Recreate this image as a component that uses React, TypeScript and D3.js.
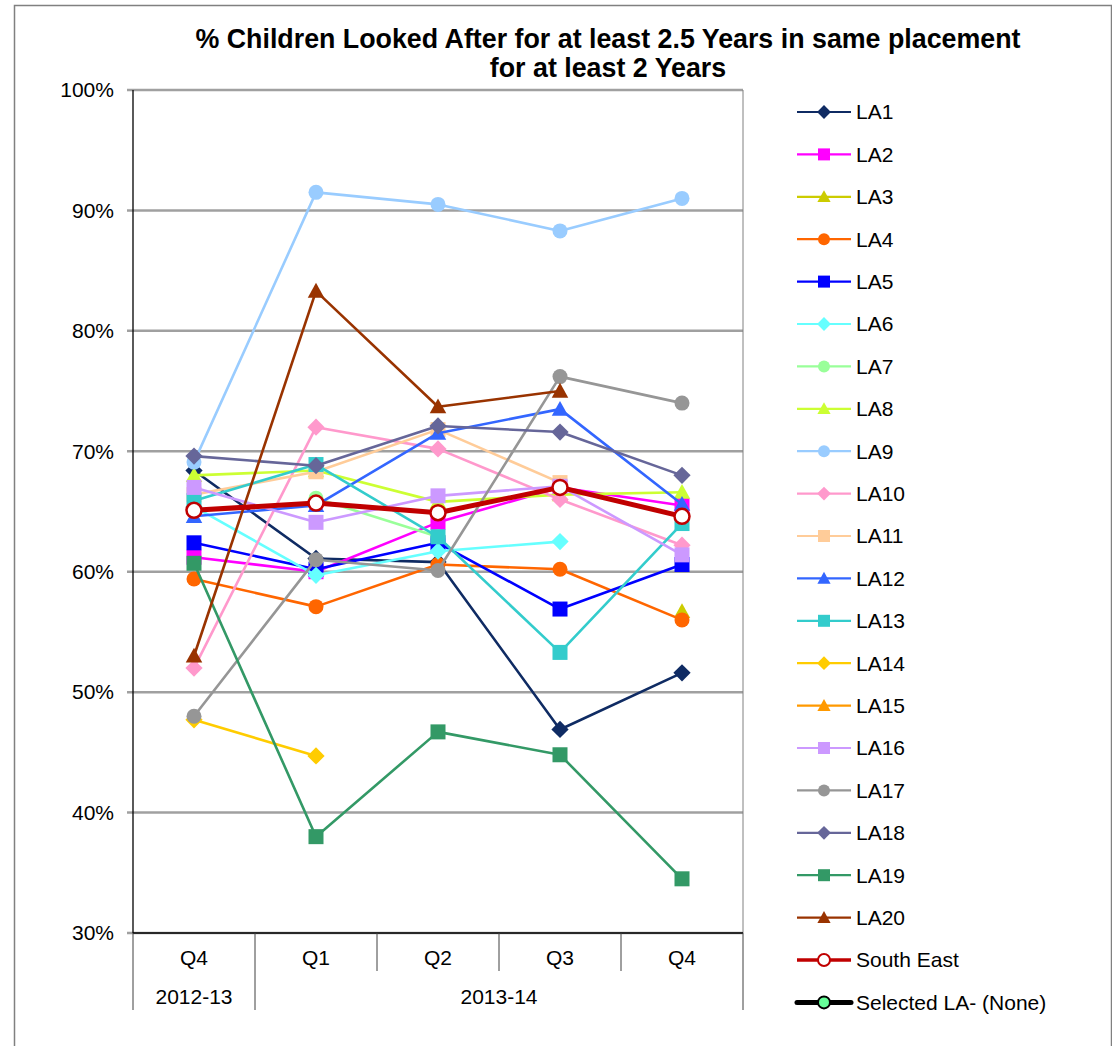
import React from "react";
import * as d3 from "d3";

const categories = ["Q4", "Q1", "Q2", "Q3", "Q4"];
const yearGroups = [
  { label: "2012-13", from: 0, to: 0 },
  { label: "2013-14", from: 1, to: 4 },
];
const yTicks = [30, 40, 50, 60, 70, 80, 90, 100];

type V = number | null;
const LA1: V[] = [68.4, 61.1, 60.8, 46.9, 51.6];
const LA2: V[] = [61.2, 60.0, 64.1, 67.0, 65.5];
const LA3: V[] = [null, null, null, null, 56.7];
const LA4: V[] = [59.4, 57.1, 60.6, 60.2, 56.0];
const LA5: V[] = [62.4, 60.2, 62.4, 56.9, 60.6];
const LA6: V[] = [65.4, 59.7, 61.7, 62.5, null];
const LA7: V[] = [null, 66.1, 62.9, null, null];
const LA8: V[] = [68.0, 68.4, 65.8, 66.4, 66.6];
const LA9: V[] = [69.1, 91.5, 90.5, 88.3, 91.0];
const LA10: V[] = [52.0, 72.0, 70.2, 66.0, 62.2];
const LA11: V[] = [66.4, 68.3, 71.8, 67.4, null];
const LA12: V[] = [64.6, 65.5, 71.5, 73.5, 65.6];
const LA13: V[] = [65.9, 68.9, 62.9, 53.3, 64.0];
const LA14: V[] = [47.7, 44.7, null, null, null];
const LA15: V[] = [null, null, null, null, null];
const LA16: V[] = [67.0, 64.1, 66.3, 67.1, 61.4];
const LA17: V[] = [48.0, 61.0, 60.1, 76.2, 74.0];
const LA18: V[] = [69.6, 68.8, 72.1, 71.6, 68.0];
const LA19: V[] = [60.7, 38.0, 46.7, 44.8, 34.5];
const LA20: V[] = [53.0, 83.3, 73.7, 75.0, null];
const SouthEast: V[] = [65.1, 65.7, 64.9, 67.0, 64.6];
const SelectedLA: V[] = [null, null, null, null, null];

type Shape = "diamond" | "square" | "triangle" | "circle";
interface S {
  name: string;
  values: V[];
  color: string;
  shape: Shape;
  width: number;
  legendWidth: number;
  fill?: string;
  stroke?: string;
}

const series: S[] = [
  { name: "LA1", values: LA1, color: "#0F2B63", shape: "diamond", width: 2.6, legendWidth: 2.2 },
  { name: "LA2", values: LA2, color: "#FF00FF", shape: "square", width: 2.6, legendWidth: 2.2 },
  { name: "LA3", values: LA3, color: "#CCCC00", shape: "triangle", width: 2.6, legendWidth: 2.2 },
  { name: "LA4", values: LA4, color: "#FF6600", shape: "circle", width: 2.6, legendWidth: 2.2 },
  { name: "LA5", values: LA5, color: "#0000FF", shape: "square", width: 2.6, legendWidth: 2.2 },
  { name: "LA6", values: LA6, color: "#66FFFF", shape: "diamond", width: 2.6, legendWidth: 2.2 },
  { name: "LA7", values: LA7, color: "#99FF99", shape: "circle", width: 2.6, legendWidth: 2.2 },
  { name: "LA8", values: LA8, color: "#CCFF33", shape: "triangle", width: 2.6, legendWidth: 2.2 },
  { name: "LA9", values: LA9, color: "#99CCFF", shape: "circle", width: 2.6, legendWidth: 2.2 },
  { name: "LA10", values: LA10, color: "#FF99CC", shape: "diamond", width: 2.6, legendWidth: 2.2 },
  { name: "LA11", values: LA11, color: "#FFCC99", shape: "square", width: 2.6, legendWidth: 2.2 },
  { name: "LA12", values: LA12, color: "#3366FF", shape: "triangle", width: 2.6, legendWidth: 2.2 },
  { name: "LA13", values: LA13, color: "#33CCCC", shape: "square", width: 2.6, legendWidth: 2.2 },
  { name: "LA14", values: LA14, color: "#FFCC00", shape: "diamond", width: 2.6, legendWidth: 2.2 },
  { name: "LA15", values: LA15, color: "#FF9900", shape: "triangle", width: 2.6, legendWidth: 2.2 },
  { name: "LA16", values: LA16, color: "#CC99FF", shape: "square", width: 2.6, legendWidth: 2.2 },
  { name: "LA17", values: LA17, color: "#969696", shape: "circle", width: 2.6, legendWidth: 2.2 },
  { name: "LA18", values: LA18, color: "#666699", shape: "diamond", width: 2.6, legendWidth: 2.2 },
  { name: "LA19", values: LA19, color: "#339966", shape: "square", width: 2.6, legendWidth: 2.2 },
  { name: "LA20", values: LA20, color: "#993300", shape: "triangle", width: 2.6, legendWidth: 2.2 },
  { name: "South East", values: SouthEast, color: "#C00000", shape: "circle", width: 5, legendWidth: 3.5, fill: "#FFFFFF", stroke: "#C00000" },
  { name: "Selected LA- (None)", values: SelectedLA, color: "#000000", shape: "circle", width: 5, legendWidth: 5, fill: "#66FF99", stroke: "#000000" },
];

const W = 1112;
const H = 1046;
const plot = { left: 133, right: 743, top: 90, bottom: 933 };
const FONT = "'Liberation Sans', Arial, sans-serif";

function Marker({ shape, x, y, size, fill, stroke, sw }: { shape: Shape; x: number; y: number; size: number; fill: string; stroke?: string; sw?: number }) {
  const h = size / 2;
  if (shape === "circle") {
    return <circle cx={x} cy={y} r={h} fill={fill} stroke={stroke || "none"} strokeWidth={sw || 0} />;
  }
  if (shape === "square") {
    return <rect x={x - h} y={y - h} width={size} height={size} fill={fill} />;
  }
  if (shape === "diamond") {
    const d = h * 1.15;
    return <path d={`M${x},${y - d}L${x + d},${y}L${x},${y + d}L${x - d},${y}Z`} fill={fill} />;
  }
  const t = h * 1.1;
  return <path d={`M${x},${y - t}L${x + t},${y + t * 0.8}L${x - t},${y + t * 0.8}Z`} fill={fill} />;
}

export default function App() {
  const x = d3
    .scalePoint<number>()
    .domain(categories.map((_, i) => i))
    .range([plot.left, plot.right])
    .padding(0.5);
  const step = x.step();
  const y = d3.scaleLinear().domain([30, 100]).range([plot.bottom, plot.top]);

  const line = d3
    .line<V>()
    .defined((d) => d != null)
    .x((_, i) => x(i) as number)
    .y((d) => y(d as number));

  const legendX = 797;
  const legendY0 = 112;
  const legendStep = 42.4;

  return (
    <div style={{ position: "absolute", left: 0, top: 0 }}>
      <svg width={W} height={H} style={{ display: "block", background: "#fff" }} fontFamily={FONT}>
        <rect x={14.5} y={5.5} width={1097} height={1060} fill="#fff" stroke="#808080" strokeWidth={1.5} />
        <text x={608} y={48} textAnchor="middle" fontSize={26.8} fontWeight="bold">
          % Children Looked After for at least 2.5 Years in same placement
        </text>
        <text x={608} y={77} textAnchor="middle" fontSize={26.8} fontWeight="bold">
          for at least 2 Years
        </text>

        {yTicks.map((t) => (
          <line key={t} x1={plot.left - 6} x2={plot.right} y1={y(t)} y2={y(t)} stroke="#A0A0A0" strokeWidth={2.5} />
        ))}
        {yTicks.map((t) => (
          <text key={"l" + t} x={114} y={y(t)} dy="0.35em" textAnchor="end" fontSize={21}>
            {t}%
          </text>
        ))}
        <line x1={plot.right} x2={plot.right} y1={plot.top} y2={plot.bottom} stroke="#808080" strokeWidth={1} />
        <line x1={plot.left} x2={plot.left} y1={plot.top} y2={plot.bottom} stroke="#000" strokeWidth={1.3} />
        <line x1={plot.left} x2={plot.right} y1={plot.bottom} y2={plot.bottom} stroke="#000" strokeWidth={1.3} />

        {d3.range(categories.length + 1).map((i) => {
          const xx = plot.left + i * step;
          const isGroupEdge = yearGroups.some((g) => g.from === i || g.to + 1 === i);
          return (
            <line key={"t" + i} x1={xx} x2={xx} y1={plot.bottom} y2={isGroupEdge ? 1010 : 971} stroke="#404040" strokeWidth={1} />
          );
        })}
        {categories.map((c, i) => (
          <text key={"c" + i} x={x(i)} y={958} dy="0.35em" textAnchor="middle" fontSize={21}>
            {c}
          </text>
        ))}
        {yearGroups.map((g) => (
          <text key={g.label} x={((x(g.from) as number) + (x(g.to) as number)) / 2} y={997} dy="0.35em" textAnchor="middle" fontSize={21}>
            {g.label}
          </text>
        ))}

        {series.map((s) => (
          <g key={s.name}>
            <path d={line(s.values) || ""} fill="none" stroke={s.color} strokeWidth={s.width} strokeLinejoin="round" />
            {s.values.map((v, i) =>
              v == null ? null : (
                <Marker
                  key={i}
                  shape={s.shape}
                  x={x(i) as number}
                  y={y(v)}
                  size={15}
                  fill={s.fill || s.color}
                  stroke={s.stroke}
                  sw={s.stroke ? 2.5 : 0}
                />
              )
            )}
          </g>
        ))}

        {series.map((s, i) => {
          const ly = legendY0 + i * legendStep;
          return (
            <g key={"lg" + s.name}>
              <line x1={legendX} x2={legendX + 54} y1={ly} y2={ly} stroke={s.color} strokeWidth={s.legendWidth} strokeLinecap={s.legendWidth > 4 ? "round" : "butt"} />
              <Marker shape={s.shape} x={legendX + 27} y={ly} size={12} fill={s.fill || s.color} stroke={s.stroke} sw={s.stroke ? 2 : 0} />
              <text x={856} y={ly} dy="0.35em" fontSize={21}>
                {s.name}
              </text>
            </g>
          );
        })}
      </svg>
    </div>
  );
}
